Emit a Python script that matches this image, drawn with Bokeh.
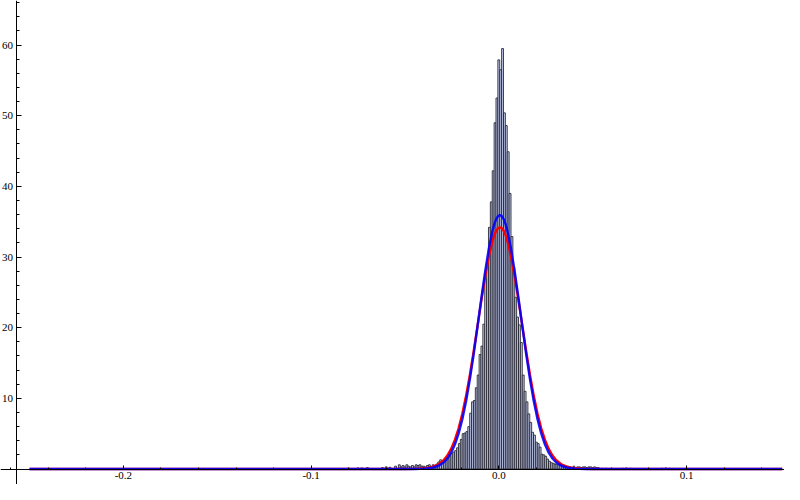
from bokeh.plotting import figure
from bokeh.models import FixedTicker, Range1d
from bokeh.embed import file_html
from bokeh.resources import INLINE

# ---- data ----
bin_width = 0.001
bin_index = [-80, -75, -73, -70, -62, -60, -58, -55, -53, -52, -51, -50, -49, -48, -47, -46,
             -45, -44, -43, -42, -41, -40, -39, -38, -37, -36, -35, -34, -33, -32, -31, -30,
             -29, -28, -27, -26, -25, -24, -23, -22, -21, -20, -19, -18, -17, -16, -15, -14,
             -13, -12, -11, -10, -9, -8, -7, -6, -5, -4, -3, -2, -1, 0, 1, 2, 3, 4, 5, 6, 7,
             8, 9, 10, 11, 12, 13, 14, 15, 16, 17, 18, 19, 20, 21, 22, 23, 24, 25, 26, 27, 28,
             29, 30, 31, 32, 33, 34, 35, 36, 37, 38, 39, 40, 41, 42, 43, 44, 45, 46, 47, 48,
             49, 50, 51, 52, 53, 55, 57, 66, 68, 70, 87, 89, 91]
bin_height = [0.1, 0.15, 0.15, 0.2, 0.2, 0.3, 0.25, 0.4, 0.6, 0.3, 0.5, 0.3, 0.6, 0.4, 0.3, 0.5,
              0.3, 0.6, 0.5, 0.6, 0.4, 0.4, 0.3, 0.5, 0.6, 0.3, 0.6, 0.5, 0.7, 1.0, 1.3, 1.1,
              1.0, 1.2, 1.7, 1.9, 2.2, 2.4, 2.6, 3.0, 3.6, 4.2, 5.0, 5.1, 5.3, 6.0, 7.9, 9.5,
              9.7, 11.5, 13.3, 16.2, 17.4, 20.5, 26.9, 29.3, 34.2, 37.8, 42.2, 49.0, 52.5, 57.9,
              56.5, 59.5, 50.4, 48.6, 44.9, 39.0, 32.9,
              28.5, 24.3, 21.5, 20.4, 17.9, 13.3, 11.0, 9.5, 7.8, 6.6, 5.2, 4.8, 3.8, 3.6, 3.1,
              2.1, 2.0, 1.8, 1.4, 1.1, 0.9,
              0.8, 0.7, 0.7, 0.6, 0.6, 0.5, 0.5, 0.3, 0.4, 0.3, 0.2, 0.4, 0.2, 0.3, 0.3, 0.2,
              0.3, 0.3, 0.2, 0.3,
              0.3, 0.2, 0.3, 0.2, 0.2, 0.1, 0.1, 0.1, 0.15, 0.1, 0.1, 0.15, 0.1]

curve_x = [-0.25, -0.0494, -0.0444, -0.0394, -0.0354, -0.0324, -0.0294, -0.0274, -0.0254,
           -0.0234, -0.0214, -0.0194, -0.0174, -0.0154, -0.0134, -0.0114, -0.0094, -0.0074,
           -0.0054, -0.0034, -0.0024, -0.0014, -0.0004, 0.0006, 0.0016, 0.0026, 0.0036,
           0.0046, 0.0066, 0.0086, 0.0106, 0.0126, 0.0146, 0.0166, 0.0186, 0.0206, 0.0226,
           0.0246, 0.0266, 0.0286, 0.0306, 0.0336, 0.0366, 0.0406, 0.0456, 0.0506, 0.151]
blue_y = [0, 0, 0.01, 0.05, 0.19, 0.43, 0.93, 1.49, 2.31, 3.47, 5.04, 7.09, 9.65, 12.72,
          16.22, 20.04, 23.95, 27.72, 31.05, 33.68, 34.65, 35.36, 35.79, 35.94, 35.79, 35.36,
          34.65, 33.68, 31.05, 27.72, 23.95, 20.04, 16.22, 12.72, 9.65, 7.09, 5.04, 3.47,
          2.31, 1.49, 0.93, 0.43, 0.19, 0.05, 0.01, 0, 0]
red_y = [0, 0, 0.02, 0.10, 0.29, 0.62, 1.25, 1.91, 2.85, 4.11, 5.77, 7.86, 10.39, 13.34,
         16.64, 20.14, 23.68, 27.03, 29.97, 32.25, 33.10, 33.71, 34.08, 34.21, 34.08, 33.71,
         33.10, 32.25, 29.97, 27.03, 23.68, 20.14, 16.64, 13.34, 10.39, 7.86, 5.77, 4.11,
         2.85, 1.91, 1.25, 0.62, 0.29, 0.10, 0.02, 0, 0]

x_major = [-0.2, -0.1, 0.0, 0.1]
x_labels = ["-0.2", "-0.1", "0.0", "0.1"]
y_major = [10, 20, 30, 40, 50, 60]
y_labels = ["10", "20", "30", "40", "50", "60"]

x_minor = [round(-0.26 + 0.02 * i, 2) for i in range(21)]
y_minor = [2 * i for i in range(34)]

bin_center = [k * bin_width for k in bin_index]

p = figure(width=784, height=484,
           x_range=Range1d(-0.26548, 0.15221), y_range=Range1d(-2.19, 66.30),
           output_backend="svg", toolbar_location=None, min_border=0)
p.xgrid.visible = False
p.ygrid.visible = False
p.outline_line_color = None
p.background_fill_color = "white"
p.border_fill_color = "white"

p.vbar(x=bin_center, top=bin_height, bottom=0, width=bin_width,
       fill_color="#c0c9ee", line_color="#22222a", line_width=0.85)

p.line(curve_x, red_y, line_color="#ff0000", line_width=2.4)
p.line(curve_x, blue_y, line_color="#0000ff", line_width=2.4, line_alpha=0.9)

for ax in (p.xaxis, p.yaxis):
    ax.axis_line_color = "black"
    ax.axis_line_width = 1
    ax.major_tick_line_color = "black"
    ax.minor_tick_line_color = "black"
    ax.major_tick_out = 0
    ax.minor_tick_out = 0
    ax.major_label_text_font = "Liberation Serif"
    ax.major_label_text_font_size = "11px"
    ax.major_label_text_color = "black"

p.xaxis.fixed_location = 0
p.xaxis.ticker = FixedTicker(ticks=x_major, minor_ticks=x_minor)
p.xaxis.major_label_overrides = dict(zip(x_major, x_labels))
p.xaxis.major_tick_in = 4
p.xaxis.minor_tick_in = 2
p.xaxis.major_label_standoff = 3

p.yaxis.fixed_location = -0.2572
p.yaxis.ticker = FixedTicker(ticks=y_major, minor_ticks=y_minor)
p.yaxis.major_label_overrides = dict(zip(y_major, y_labels))
p.yaxis.major_tick_in = 5
p.yaxis.minor_tick_in = 3
p.yaxis.major_label_standoff = 3

open("out.html", "w").write(file_html(p, INLINE))
